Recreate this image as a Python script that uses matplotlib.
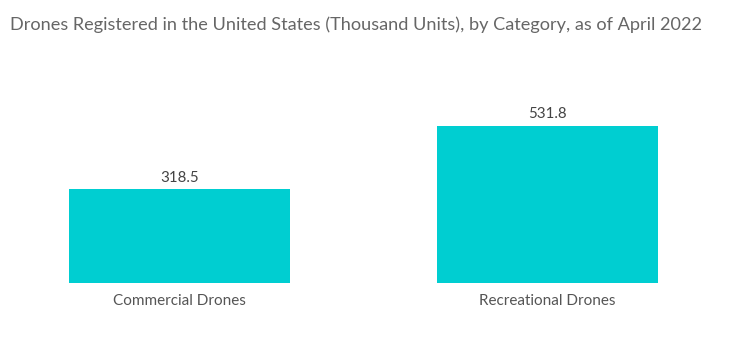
import matplotlib
matplotlib.use("Agg")
import matplotlib.pyplot as plt

categories = ["Commercial Drones", "Recreational Drones"]
values = [318.5, 531.8]

plt.rcParams['font.family'] = ['Lato', 'DejaVu Sans']

W, H = 734, 344
fig = plt.figure(figsize=(W / 100, H / 100), dpi=100)
# axes placed in pixel terms: left 69, right 658, bottom 283, top 60
ax = fig.add_axes([69 / W, (H - 283) / H, (658 - 69) / W, (283 - 60) / H])

bars = ax.bar(range(len(values)), values, width=0.6, color="#00CED1")
ax.set_xlim(-0.3, 1.3)
ax.set_ylim(0, 753)

for b, v in zip(bars, values):
    ax.text(b.get_x() + b.get_width() / 2, v + 14, f"{v}", ha="center", va="bottom",
            fontsize=10.8, color="#444444")

ax.set_xticks(range(len(categories)))
ax.set_xticklabels(categories, fontsize=11, color="#555555")
ax.tick_params(axis="x", length=0, pad=8)
ax.set_yticks([])
for s in ax.spines.values():
    s.set_visible(False)

fig.text(10 / W, 1 - 25 / H, "Drones Registered in the United States (Thousand Units), by Category, as of April 2022",
         fontsize=13.1, color="#666666", va="center", ha="left")

fig.savefig("out.png", dpi=100)
